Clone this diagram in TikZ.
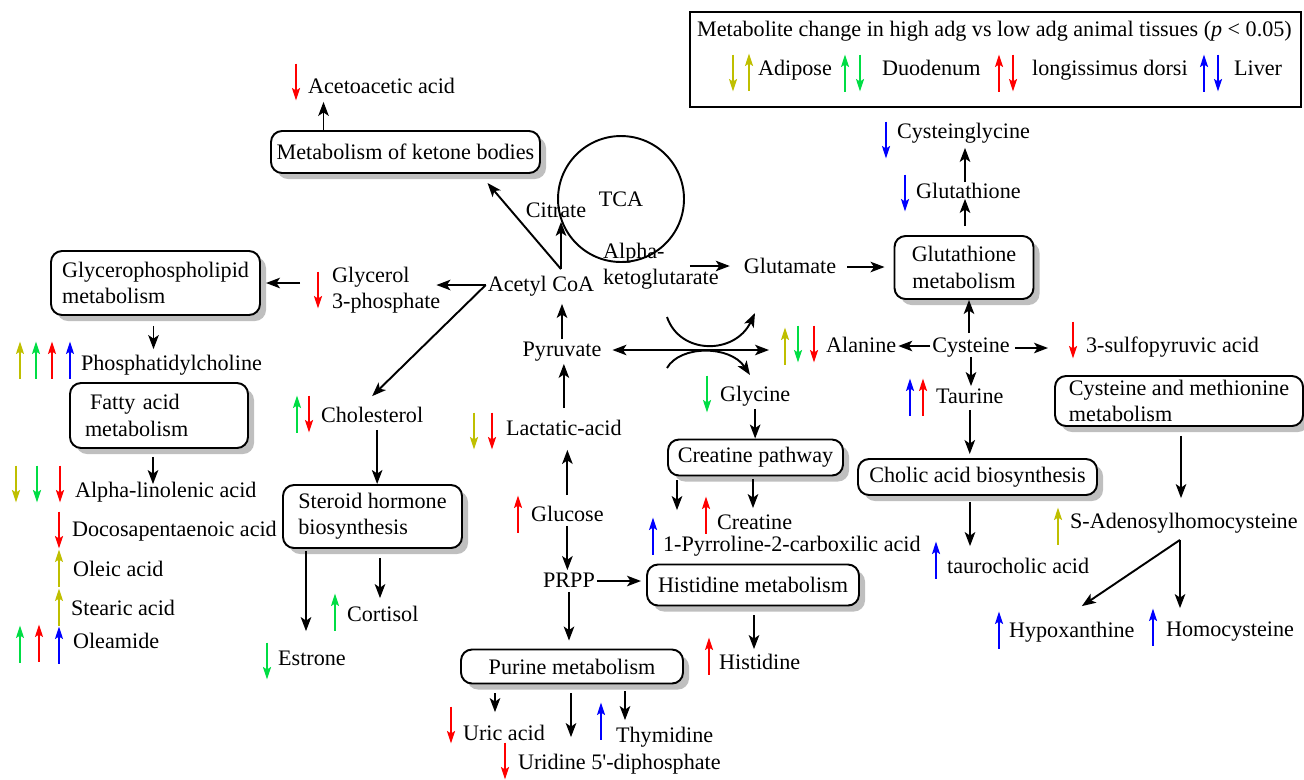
\documentclass[tikz,border=0pt]{standalone}
\usepackage{fontspec}
\setmainfont{Liberation Serif}
\usepackage{xcolor}
\usepackage{tikz}
\usetikzlibrary{arrows.meta,shadows}
\definecolor{adyel}{HTML}{BFBF00}
\definecolor{dugreen}{HTML}{00DD44}
\definecolor{ldred}{HTML}{FF0000}
\definecolor{lvblue}{HTML}{0000FF}
% tissue change marks: colour, x, y
\newcommand{\upind}[3]{\draw[indic,#1] (#2,#3+18.5) -- (#2,#3-18.5);}
\newcommand{\dnind}[3]{\draw[indic,#1] (#2,#3-18.5) -- (#2,#3+18.5);}

\begin{document}
\begin{tikzpicture}[x=0.02cm, y=-0.02cm,
  every node/.style={font=\fontsize{12.6}{15}\selectfont},
  met/.style={inner sep=1pt, text height=0.85em, text depth=0.15em},
  met2/.style={inner sep=1pt, align=left},
  pbox/.style 2 args={draw, rounded corners=0.22cm, line width=1.1pt, fill=white,
    minimum width=#1*0.02cm, minimum height=#2*0.02cm, inner sep=2pt,
    drop shadow={shadow xshift=0.12cm, shadow yshift=-0.12cm, fill=black!25, opacity=1}},
  arr/.style={-{Stealth[length=0.28cm,width=0.21cm,inset=0.07cm]}, line width=1.1pt},
  arr2/.style={{Stealth[length=0.28cm,width=0.21cm,inset=0.07cm]}-{Stealth[length=0.28cm,width=0.21cm,inset=0.07cm]}, line width=1.1pt},
  indic/.style={-{Stealth[length=0.25cm,width=0.16cm,inset=0.05cm]}, line width=1.05pt}]
\useasboundingbox (0,0) rectangle (1304,779);

% legend
\draw[line width=1.1pt] (690,12) rectangle (1301,107);
\node[met, anchor=west] (legt) at (695,30) {Metabolite change in high adg vs low adg animal tissues (\textit{p} < 0.05)};
\node[met, anchor=west] (lega) at (756,69) {Adipose};
\node[met, anchor=west] (legd) at (880,69) {Duodenum};
\node[met, anchor=west] (legl) at (1030,69) {longissimus dorsi};
\node[met, anchor=west] (legv) at (1232,69) {Liver};
\dnind{adyel}{733}{73} \upind{adyel}{749}{72}
\upind{dugreen}{845}{73} \dnind{dugreen}{860}{73}
\upind{ldred}{999}{73} \dnind{ldred}{1013}{73}
\upind{lvblue}{1204}{73} \dnind{lvblue}{1218}{73}

% pathways
\node[pbox={269}{42}] (ketone) at (405.5,152) {Metabolism of ketone bodies};
\node[pbox={209}{64}, align=left] (gpl) at (155.5,283) {Glycerophospholipid\\metabolism};
\node[pbox={178}{65}, align=left, text width=2.96cm] (fam) at (159,415.5) {\hspace{0.1cm}Fatty acid\\metabolism};
\node[pbox={179}{63}, align=left] (shb) at (372.5,516.5) {Steroid hormone\\biosynthesis};
\node[pbox={175}{36}] (crp) at (755.5,457.5) {Creatine pathway};
\node[pbox={212}{41}] (hism) at (753,585) {Histidine metabolism};
\node[pbox={222}{34}] (purm) at (572,666.5) {Purine metabolism};
\node[pbox={139}{63}, align=center] (gshm) at (964,267.5) {Glutathione\\metabolism};
\node[pbox={239}{36}] (cholic) at (977.5,477) {Cholic acid biosynthesis};
\node[pbox={248}{50}, align=left] (cmm) at (1179,401) {Cysteine and methionine\\metabolism};
\node[circle, draw, line width=1.1pt, minimum size=2.52cm] (tca) at (621,199) {TCA};

% metabolites
\node[met, anchor=west] (aceto) at (306,87) {Acetoacetic acid};
\node[met] (citrate) at (556,211) {Citrate};
\node[met2, anchor=west] (akg) at (601,266) {Alpha-\\ketoglutarate};
\node[met] (acoa) at (541,285) {Acetyl CoA};
\node[met2, anchor=west] (glyc) at (330,290) {Glycerol\\3-phosphate};
\node[met] (pyr) at (562,350) {Pyruvate};
\node[met, anchor=west] (lact) at (504,429) {Lactatic-acid};
\node[met, anchor=west] (gluc) at (529,515) {Glucose};
\node[met] (prpp) at (569,581) {PRPP};
\node[met] (glu) at (790,267) {Glutamate};
\node[met, anchor=west] (ala) at (824,346) {Alanine};
\node[met] (cys) at (971,346) {Cysteine};
\node[met, anchor=west] (sulfo) at (1084,346) {3-sulfopyruvic acid};
\node[met, anchor=west] (glyn) at (718,395) {Glycine};
\node[met, anchor=west] (taur) at (934,397) {Taurine};
\node[met, anchor=west] (cysgly) at (895,132) {Cysteinglycine};
\node[met, anchor=west] (gsh) at (914,192) {Glutathione};
\node[met, anchor=west] (creat) at (715,523) {Creatine};
\node[met, anchor=west] (pyrrol) at (661,545) {1-Pyrroline-2-carboxilic acid};
\node[met, anchor=west] (histd) at (717,663) {Histidine};
\node[met, anchor=west] (uric) at (461,734) {Uric acid};
\node[met, anchor=west] (thym) at (614,736) {Thymidine};
\node[met, anchor=west] (udp) at (516,763) {Uridine 5\textquotesingle-diphosphate};
\node[met, anchor=west] (tcho) at (945,567) {taurocholic acid};
\node[met, anchor=west] (sah) at (1068,522) {S-Adenosylhomocysteine};
\node[met, anchor=west] (hypo) at (1007,631) {Hypoxanthine};
\node[met, anchor=west] (hcys) at (1164,630) {Homocysteine};
\node[met, anchor=west] (pc) at (79,364) {Phosphatidylcholine};
\node[met, anchor=west] (aln) at (73,491) {Alpha-linolenic acid};
\node[met, anchor=west] (dpa) at (70,530) {Docosapentaenoic acid};
\node[met, anchor=west] (ole) at (71,570) {Oleic acid};
\node[met, anchor=west] (ste) at (69,609) {Stearic acid};
\node[met, anchor=west] (olm) at (71,642) {Oleamide};
\node[met, anchor=west] (chol) at (319,416) {Cholesterol};
\node[met, anchor=west] (cort) at (345,615) {Cortisol};
\node[met, anchor=west] (estr) at (276,659) {Estrone};

% connectors
\draw[arr] ([shift={(-82,0)}]ketone.north) -- ([shift={(-82,4)}]ketone.north |- aceto.south);
\coordinate (acbr) at ([shift={(20,-5)}]acoa.north);
\draw[arr] (acbr) -- (acbr |- citrate.south);
\draw[arr] (acbr) -- ([shift={(82,9)}]ketone.south);
\draw[arr] (acoa.west) -- ([shift={(-6,0)}]glyc.east |- acoa.west);
\draw[arr] (acoa.west) -- ([shift={(0,-9)}]chol.north);
\draw[arr] ([shift={(-30,0)}]glyc.west |- gpl.east) -- ([shift={(5,0)}]gpl.east);
\draw[arr] ([shift={(-2,10)}]gpl.south) -- ([shift={(-2,-4)}]gpl.south |- pc.north);
\draw[arr] ([shift={(-6,8)}]fam.south) -- ([shift={(-6,4)}]fam.south |- aln.north);
\draw[arr] ([shift={(5,3)}]chol.south) -- ([shift={(5,0)}]chol.south |- shb.north);
\draw[arr] ([shift={(-66.5,2)}]shb.south) -- ([shift={(-66.5,-17)}]shb.south |- estr.north);
\draw[arr] ([shift={(7.5,9)}]shb.south) -- ([shift={(7.5,-6)}]shb.south |- cort.north);
\draw[arr] (pyr.north) -- ([shift={(0,8)}]pyr.north |- acoa.south);
\draw[arr] ([shift={(0,-10)}]lact.north) -- ([shift={(0,3)}]lact.north |- pyr.south);
\draw[arr] ([shift={(0,-9)}]gluc.north) -- ([shift={(0,10)}]gluc.north |- lact.south);
\draw[arr] (gluc.south) -- (gluc.south |- prpp.north);
\draw[arr] (prpp.east) -- ([shift={(-5,0)}]prpp.east -| hism.west);
\draw[arr] (prpp.south) -- ([shift={(0,-8)}]prpp.south |- purm.north);
\draw[arr] ([shift={(1,9)}]hism.south) -- ([shift={(1,-3)}]hism.south |- histd.north);
\draw[arr] ([shift={(-77,9)}]purm.south) -- ([shift={(-77,-11)}]purm.south |- uric.north);
\draw[arr] ([shift={(-1,9)}]purm.south) -- ([shift={(-1,-15)}]purm.south |- udp.north);
\draw[arr] ([shift={(53,7)}]purm.south) -- ([shift={(53,-5)}]purm.south |- thym.north);
\draw[arr2] ([shift={(9,0)}]pyr.east) -- ([shift={(-55,0)}]ala.west |- pyr.east);
\coordinate (xchg) at (710,350);
\draw[arr] ([shift={(-43,-33)}]xchg) .. controls ([shift={(-30,5)}]xchg) and ([shift={(25,5)}]xchg) .. ([shift={(45,-37)}]xchg);
\draw[arr] ([shift={(-43,18)}]xchg) .. controls ([shift={(-30,-5)}]xchg) and ([shift={(20,-5)}]xchg) .. ([shift={(40,25)}]xchg);
\draw[arr] (cys.west) -- (ala.east);
\draw[arr] ([shift={(3,2)}]cys.east) -- ([shift={(-36,2)}]sulfo.west |- cys.east);
\draw[arr] ([shift={(-2,-2)}]cys.north) -- ([shift={(-2,0)}]cys.north |- gshm.south);
\draw[arr] ([shift={(1,-9)}]gshm.north) -- ([shift={(1,-4)}]gshm.north |- gsh.south);
\draw[arr] ([shift={(1,1)}]gshm.north |- gsh.north) -- ([shift={(1,5)}]gshm.north |- cysgly.south);
\draw[arr] ([shift={(-31,0)}]akg.east) -- ([shift={(-12,0)}]glu.west |- akg.east);
\draw[arr] ([shift={(9,0)}]glu.east) -- ([shift={(-9,0)}]glu.east -| gshm.west);
\draw[arr] ([shift={(0,3)}]glyn.south) -- (glyn.south |- crp.north);
\draw[arr] ([shift={(-78.5,4)}]crp.south) -- ([shift={(-78.5,-2)}]crp.south |- creat.north);
\draw[arr] ([shift={(-2.5,3)}]crp.south) -- ([shift={(-2.5,-4)}]crp.south |- creat.north);
\draw[arr] (cys.south) -- (cys.south |- taur.north);
\draw[arr] ([shift={(0,2)}]taur.south) -- ([shift={(0,-4)}]taur.south |- cholic.north);
\draw[arr] ([shift={(-7.5,6)}]cholic.south) -- ([shift={(-7.5,-10)}]cholic.south |- tcho.north);
\draw[arr] ([shift={(2,9)}]cmm.south) -- ([shift={(2,-13)}]cmm.south |- sah.north);
\coordinate (sahbr) at ([shift={(1,7)}]cmm.south |- sah.south);
\draw[arr] (sahbr) -- ([shift={(1,-11)}]cmm.south |- hcys.north);
\draw[arr] (sahbr) -- ([shift={(10,-14)}]hypo.north);

% tissue changes
\dnind{ldred}{296}{82}
\dnind{lvblue}{886}{140} \dnind{lvblue}{905}{193}
\dnind{ldred}{318}{290}
\upind{adyel}{20}{360} \upind{dugreen}{36}{360} \upind{ldred}{52}{360} \upind{lvblue}{70}{360}
\dnind{adyel}{16}{484} \dnind{dugreen}{37}{484} \dnind{ldred}{60}{484}
\dnind{ldred}{59}{530}
\upind{adyel}{59}{568}
\upind{adyel}{59}{607}
\upind{dugreen}{20}{644} \upind{ldred}{39}{643} \upind{lvblue}{59}{645}
\upind{dugreen}{297}{414} \dnind{ldred}{309}{414}
\upind{dugreen}{335}{612}
\dnind{dugreen}{267}{661}
\dnind{adyel}{474}{431} \dnind{ldred}{492}{431}
\upind{ldred}{518}{514}
\upind{adyel}{785}{346} \dnind{dugreen}{798}{344} \dnind{ldred}{814}{344}
\dnind{dugreen}{707}{394}
\upind{ldred}{706}{515}
\upind{lvblue}{653}{536}
\upind{ldred}{709}{656}
\dnind{ldred}{451}{725}
\dnind{ldred}{505}{761}
\upind{lvblue}{601}{721}
\dnind{ldred}{1073}{340}
\upind{lvblue}{910}{397} \upind{ldred}{923}{397}
\upind{lvblue}{936}{560}
\upind{adyel}{1058}{526}
\upind{lvblue}{999}{630}
\upind{lvblue}{1153}{627}
\end{tikzpicture}
\end{document}
